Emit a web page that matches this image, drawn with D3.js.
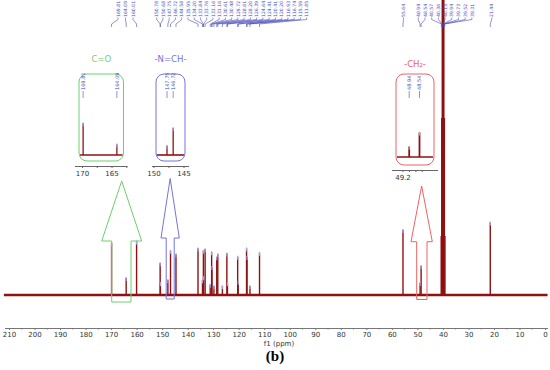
<!DOCTYPE html>
<html>
<head>
<meta charset="utf-8">
<script src="https://cdn.jsdelivr.net/npm/d3@7"></script>
<style>
  body { margin: 0; background: #fff; }
  text { font-family: "DejaVu Sans", sans-serif; }
</style>
</head>
<body>
<div id="chart"></div>
<script>
// 13C NMR peak list (ppm) and relative heights, grouped as the peak labels are
const ppmCO = [169.81, 164.09, 160.01];
const intCO = [17.6, 5.8, 18.1];

const ppmArom = [150.78, 150.68, 147.75, 146.72, 144.58, 135.95, 134.20, 133.84, 133.76,
                 133.16, 131.16, 130.61, 130.48, 129.72, 128.61, 128.20, 126.39, 124.64,
                 124.41, 120.41, 120.20, 116.93, 116.74, 115.59, 111.85];
const intArom = [10.8, 4.0, 5.1, 15.0, 13.8, 15.8, 5.0, 15.0, 6.0,
                 15.5, 3.5, 14.5, 9.5, 3.0, 12.8, 13.8, 3.0, 14.1,
                 4.0, 13.0, 4.5, 15.8, 12.9, 3.0, 14.3];

const ppmAliph = [55.64, 48.94, 48.54];
const intAliph = [22.0, 4.1, 9.8];

const ppmDMSO = [40.57, 40.36, 40.15, 39.94, 39.73, 39.52, 39.31];
const intDMSO = [20, 60, 140, 190, 140, 60, 20];

const ppmMe = [21.44];
const intMe = [24.6];

const xTickValues = d3.range(0, 211, 10);
const xMinorValues = d3.range(5, 210, 10);

// zoomed insets
const insetNames = ["C=O", "-N=CH-", "-CH\u2082-"];
const insetColors = ["#6fcf6f", "#7474e0", "#f06262"];
const insetDomains = [[170, 165], [150, 145], [49.2, 48.4]];
const insetTicks = [[170, 167.5, 165, 162.5], [150, 147.5, 145], [49.2, 48.95, 48.7, 48.45]];
const insetTickLabels = [["170", "165"], ["150", "145"], ["49.2"]];
const insetPeaks = [[169.81, 164.09], [147.75, 146.72], [48.94, 48.54]];

const width = 550, height = 370;
const baseY = 295;
const red = "#8e1212", blue = "#4a4ab8";

const svg = d3.select("#chart").append("svg")
    .attr("width", width)
    .attr("height", height);

// main scales
const x = d3.scaleLinear().domain([210, 0]).range([9, 545]);
const y = d3.scaleLinear().domain([0, 100]).range([baseY, 0]);

// all peaks together
const allPpm = [].concat(ppmCO, ppmArom, ppmAliph, ppmDMSO, ppmMe);
const allInt = [].concat(intCO, intArom, intAliph, intDMSO, intMe);
const peaks = allPpm.map((p, i) => ({ppm: p, h: allInt[i], solvent: ppmDMSO.includes(p)}));

// baseline (noise band)
svg.append("line")
    .attr("x1", x(212)).attr("x2", x(-1))
    .attr("y1", y(0)).attr("y2", y(0))
    .attr("stroke", red).attr("stroke-width", 2.4);

// peak sticks
svg.append("g").selectAll("line")
    .data(peaks)
    .enter().append("line")
    .attr("x1", d => x(d.ppm)).attr("x2", d => x(d.ppm))
    .attr("y1", y(0)).attr("y2", d => y(d.h))
    .attr("stroke", red)
    .attr("stroke-width", d => d.solvent ? 1.9 : 1.4);

// blue peak-pick marks on the tops
svg.append("g").selectAll("line")
    .data(peaks.filter(d => !d.solvent))
    .enter().append("line")
    .attr("x1", d => x(d.ppm)).attr("x2", d => x(d.ppm))
    .attr("y1", d => y(d.h) - 1).attr("y2", d => y(d.h) + 3)
    .attr("stroke", "#a4a4e8")
    .attr("stroke-width", 1.2);

// x axis
const axis = svg.append("g")
    .attr("transform", "translate(0,328)")
    .call(d3.axisBottom(x).tickValues(xTickValues).tickSize(2).tickPadding(2).tickSizeOuter(0));
axis.select(".domain").attr("stroke", "#777").attr("d", "M5,0.5H548");
axis.selectAll(".tick line").attr("stroke", "#777");
axis.selectAll(".tick text").attr("font-size", 7).attr("fill", "#333");

svg.append("g").selectAll("line")
    .data(xMinorValues)
    .enter().append("line")
    .attr("x1", d => x(d)).attr("x2", d => x(d))
    .attr("y1", 328).attr("y2", 329.5)
    .attr("stroke", "#777");

svg.append("text")
    .attr("x", 279).attr("y", 346)
    .attr("text-anchor", "middle")
    .attr("font-size", 7).attr("fill", "#333")
    .text("f1 (ppm)");

svg.append("text")
    .attr("x", 275).attr("y", 361)
    .attr("text-anchor", "middle")
    .style("font-family", "'Liberation Serif', serif")
    .attr("font-size", 15).attr("font-weight", "bold")
    .text("(b)");

// top peak labels with connector lines
function labelGroup(ppms, x0, step) {
  const g = svg.append("g");
  ppms.forEach((p, i) => {
    const lx = x0 + i * step, px = x(p);
    g.append("path")
        .attr("d", `M${lx},17.5V19.5L${px},24V27`)
        .attr("fill", "none").attr("stroke", blue).attr("stroke-width", 0.6);
    g.append("text")
        .attr("transform", `translate(${lx + 1.6},17) rotate(-90)`)
        .attr("font-size", 4.6).attr("fill", blue)
        .text(p.toFixed(2));
  });
}
labelGroup(ppmCO, 118, 7.5);
labelGroup(ppmArom, 156.7, 6.25);
labelGroup([ppmAliph[0]], 403.5, 0);
labelGroup(ppmAliph.slice(1).concat(ppmDMSO), 418.3, 6.7);
labelGroup(ppmMe, 491.7, 0);

// insets
const insetBoxes = [
  {x0: 79, x1: 123.5, top: 74, bottom: 161, base: 155, axisY: 166, k: 1.8, range: [82, 111.5], titleY: 62},
  {x0: 156, x1: 185, top: 74, bottom: 161, base: 155, axisY: 166, k: 1.8, range: [153.5, 183.5], titleY: 62},
  {x0: 396, x1: 434, top: 74, bottom: 165, base: 157, axisY: 170, k: 2.5, range: [402.5, 423.1], titleY: 67}
];

insetBoxes.forEach((b, i) => {
  const c = insetColors[i];
  const xi = d3.scaleLinear().domain(insetDomains[i]).range(b.range);
  const g = svg.append("g");

  g.append("rect")
      .attr("x", b.x0).attr("y", b.top)
      .attr("width", b.x1 - b.x0).attr("height", b.bottom - b.top)
      .attr("rx", 8).attr("fill", "none")
      .attr("stroke", c).attr("stroke-width", 1);

  g.append("text")
      .attr("x", (b.x0 + b.x1) / 2).attr("y", b.titleY)
      .attr("text-anchor", "middle")
      .attr("font-size", 8.5).attr("fill", c)
      .text(insetNames[i]);

  g.append("line")
      .attr("x1", b.x0 + 1).attr("x2", b.x1 - 1)
      .attr("y1", b.base).attr("y2", b.base)
      .attr("stroke", red).attr("stroke-width", 1.6);

  insetPeaks[i].forEach(p => {
    const h = allInt[allPpm.indexOf(p)];
    const px = xi(p);
    g.append("line")
        .attr("x1", px).attr("x2", px)
        .attr("y1", b.base).attr("y2", b.base - h * b.k)
        .attr("stroke", red).attr("stroke-width", i === 2 ? 1.8 : 1.3);
    g.append("line")
        .attr("x1", px).attr("x2", px)
        .attr("y1", b.base - h * b.k - 1).attr("y2", b.base - h * b.k + 3)
        .attr("stroke", "#a4a4e8").attr("stroke-width", 1.1);
    g.append("line")
        .attr("x1", px).attr("x2", px)
        .attr("y1", 91).attr("y2", 98)
        .attr("stroke", blue).attr("stroke-width", 0.6);
    g.append("text")
        .attr("transform", `translate(${px + 1.8},90) rotate(-90)`)
        .attr("font-size", 5).attr("fill", blue)
        .text(p.toFixed(2));
  });

  const ax = g.append("g")
      .attr("transform", `translate(0,${b.axisY})`)
      .call(d3.axisBottom(xi).tickValues(insetTicks[i]).tickSize(2).tickSizeOuter(0)
          .tickFormat(d => insetTickLabels[i].includes(String(d)) ? String(d) : ""));
  ax.select(".domain").attr("stroke", "#666")
      .attr("d", `M${b.x0 - 4},0.5H${b.x1 + 4}`);
  ax.selectAll(".tick line").attr("stroke", "#666");
  ax.selectAll(".tick text").attr("font-size", 7).attr("fill", "#333");
});

// outline arrows from the marked spectral regions to the insets
const arrows = [
  {l: 111.7, r: 131, hl: 101.7, hr: 141.7, tip: 181, neck: 241, bottom: 302},
  {l: 166.2, r: 174.2, hl: 161, hr: 179.3, tip: 178.5, neck: 238, bottom: 299},
  {l: 416.7, r: 427, hl: 411, hr: 432.3, tip: 186, neck: 241.7, bottom: 299.5}
];
arrows.forEach((a, i) => {
  const mid = (a.hl + a.hr) / 2;
  svg.append("path")
      .attr("d", `M${a.l},${a.bottom}V${a.neck}H${a.hl}L${mid},${a.tip}L${a.hr},${a.neck}H${a.r}V${a.bottom}Z`)
      .attr("fill", "none")
      .attr("stroke", insetColors[i]).attr("stroke-width", 1);
});
</script>
</body>
</html>
